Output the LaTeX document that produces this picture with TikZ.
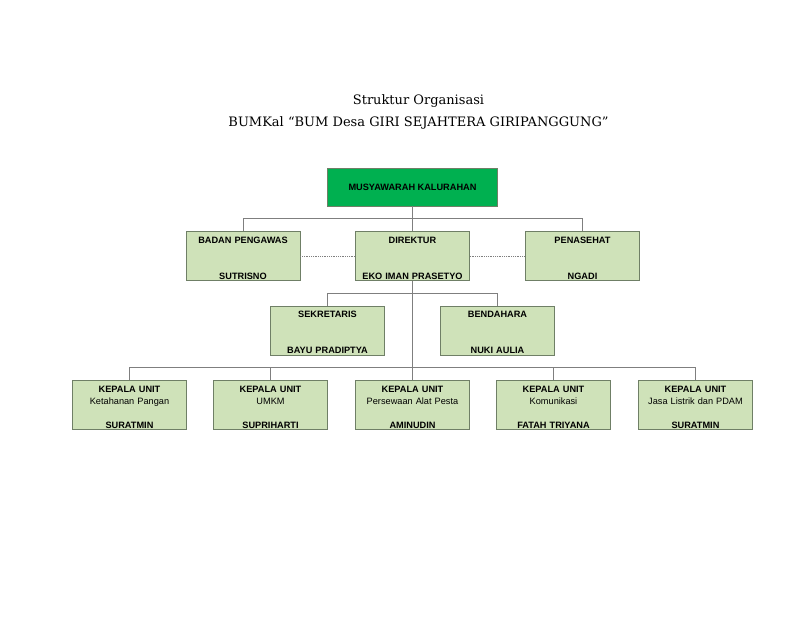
\documentclass[tikz,border=0pt]{standalone}
\usepackage{fontspec}
\setmainfont{Liberation Sans}
\newfontfamily\titlefont{DejaVu Serif}
\usepackage{xcolor}
\usetikzlibrary{positioning,calc}

\definecolor{topgreen}{HTML}{00B050}
\definecolor{boxgreen}{HTML}{CFE2B9}
\definecolor{boxline}{HTML}{6F7F66}
\definecolor{linegray}{HTML}{7F7F7F}

\tikzset{
  topbox/.style={draw=boxline,fill=topgreen,minimum width=170pt,minimum height=38pt,
    font=\fontsize{9.2}{12}\selectfont\bfseries},
  unitbox/.style={draw=boxline,fill=boxgreen,minimum width=114pt,minimum height=49pt,
    text width=112pt,align=center,inner sep=1pt,text height=10.5pt,
    font=\fontsize{9.2}{12}\selectfont},
  conn/.style={draw=linegray,line width=0.8pt},
  side/.style={draw=linegray,line width=0.8pt,densely dotted}
}

\begin{document}
\begin{tikzpicture}[x=1pt,y=1pt,every node/.style={on grid}]
    \useasboundingbox (0,0) rectangle (800,-618);
    % judul
    \node[font=\titlefont\fontsize{13}{15}\selectfont] (judul1) at (418.5,-101) {Struktur Organisasi};
    \node[font=\titlefont\fontsize{13}{15}\selectfont,below=22pt of judul1] (judul2) {BUMKal “BUM Desa GIRI SEJAHTERA GIRIPANGGUNG”};
    % musyawarah
    \node[topbox] (musy) at (412.5,-187) {MUSYAWARAH KALURAHAN};
    % baris kedua
    \node[unitbox,below=69pt of musy] (dir) {\textbf{DIREKTUR}\\[24pt]\textbf{EKO IMAN PRASETYO}};
    \node[unitbox,left=169.5pt of dir] (bp) {\textbf{BADAN PENGAWAS}\\[24pt]\textbf{SUTRISNO}};
    \node[unitbox,right=170pt of dir] (pen) {\textbf{PENASEHAT}\\[24pt]\textbf{NGADI}};
    % sekretaris dan bendahara
    \node[unitbox,below left=74.5pt and 85pt of dir] (sek) {\textbf{SEKRETARIS}\\[24pt]\textbf{BAYU PRADIPTYA}};
    \node[unitbox,right=170pt of sek] (ben) {\textbf{BENDAHARA}\\[24pt]\textbf{NUKI AULIA}};
    % kepala unit
    \node[unitbox,below=149pt of dir] (k3) {\textbf{KEPALA UNIT}\\Persewaan Alat Pesta\\[12pt]\textbf{AMINUDIN}};
    \node[unitbox,left=142pt of k3] (k2) {\textbf{KEPALA UNIT}\\UMKM\\[12pt]\textbf{SUPRIHARTI}};
    \node[unitbox,left=141pt of k2] (k1) {\textbf{KEPALA UNIT}\\Ketahanan Pangan\\[12pt]\textbf{SURATMIN}};
    \node[unitbox,right=141pt of k3] (k4) {\textbf{KEPALA UNIT}\\Komunikasi\\[12pt]\textbf{FATAH TRIYANA}};
    \node[unitbox,right=142pt of k4] (k5) {\textbf{KEPALA UNIT}\\Jasa Listrik dan PDAM\\[12pt]\textbf{SURATMIN}};
    % garis
    \coordinate (busA) at ($(musy.south)!0.5!(dir.north)$);
    \coordinate (busB) at ($(dir.south)!0.5!(dir.south |- sek.north)$);
    \coordinate (busC) at ($(sek.south)!0.5!(sek.south |- k1.north)$);
    \draw[conn] (musy.south) -- (dir.north);
    \draw[conn] (bp.north) |- (busA) -| (pen.north);
    \draw[side] (bp.east) -- (dir.west);
    \draw[side] (dir.east) -- (pen.west);
    \draw[conn] (dir.south) -- (k3.north);
    \draw[conn] (sek.north) |- (busB) -| (ben.north);
    \draw[conn] (k1.north) |- (busC) -| (k5.north);
    \draw[conn] (k2.north) -- (k2.north |- busC);
    \draw[conn] (k4.north) -- (k4.north |- busC);
  \end{tikzpicture}
\end{document}
